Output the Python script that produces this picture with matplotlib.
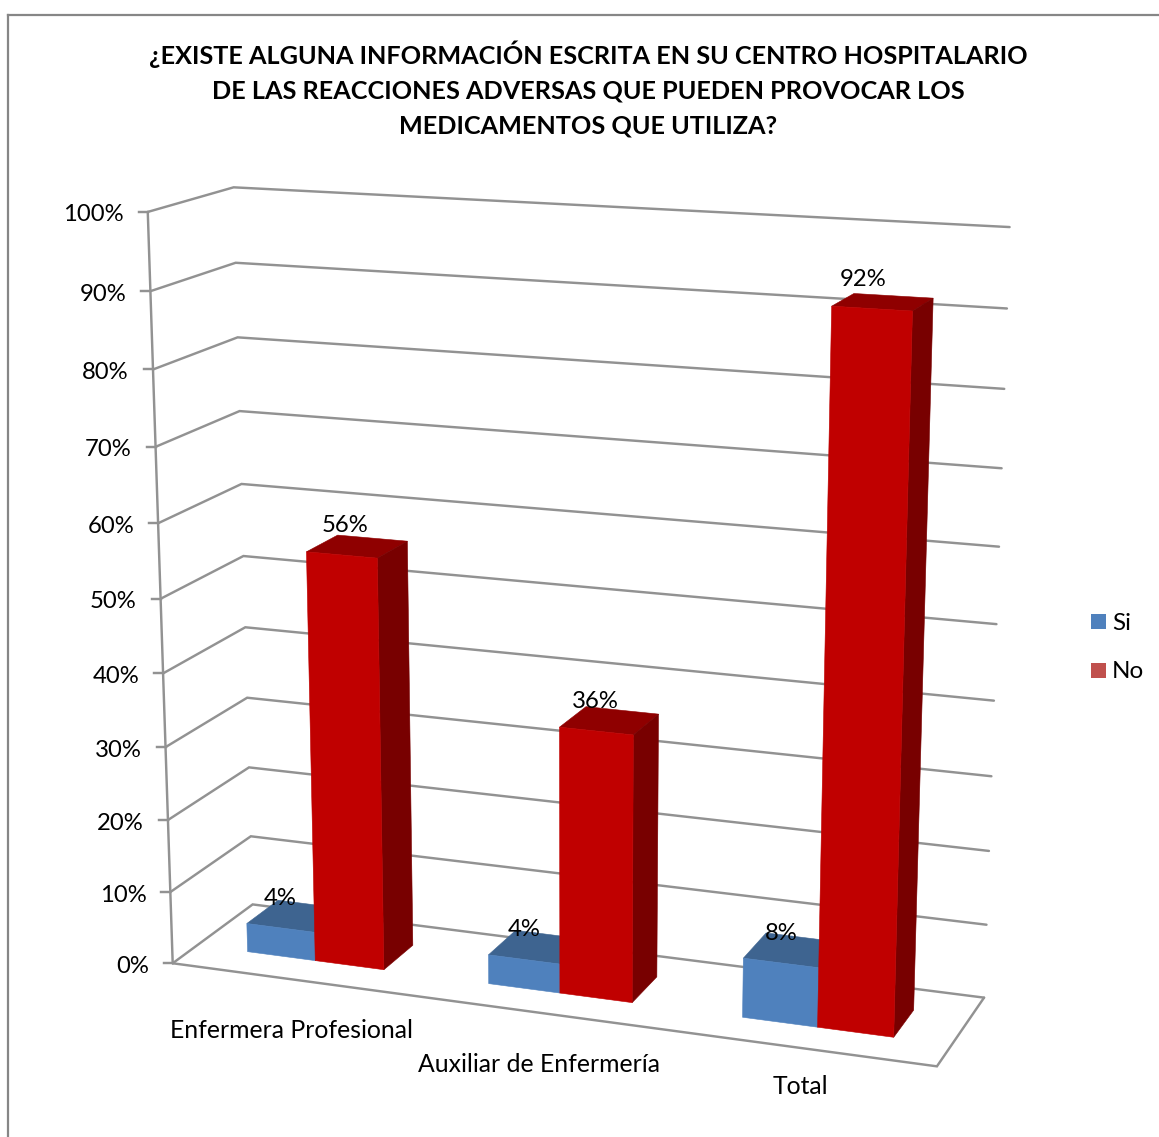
import matplotlib
matplotlib.use("Agg")
import matplotlib.pyplot as plt
import numpy as np

# Data
categories = ["Enfermera Profesional", "Auxiliar de Enfermería", "Total"]
si_values = [4, 4, 8]
no_values = [56, 36, 92]
y_ticks = [0, 10, 20, 30, 40, 50, 60, 70, 80, 90, 100]
series_names = ["Si", "No"]
title = ("¿EXISTE ALGUNA INFORMACIÓN ESCRITA EN SU CENTRO HOSPITALARIO\n"
         "DE LAS REACCIONES ADVERSAS QUE PUEDEN PROVOCAR LOS\n"
         "MEDICAMENTOS QUE UTILIZA?")

plt.rcParams['font.family'] = ['Lato', 'DejaVu Sans']

W, H = 1159, 1137
GRID = "#929292"
GAP_WIDTH = 1.5          # gap between clusters, in bar widths
DEPTH_FRONT = 0.30       # bars sit in this slice of the floor depth
DEPTH_BACK = 0.70

# camera calibration: (x, depth, pct) -> pixel, corners of the 3D box
cal_world = [(0, 0, 0), (0, 0, 30), (0, 0, 60), (0, 0, 100),
             (0, 1, 0), (0, 1, 30), (0, 1, 60), (0, 1, 100),
             (1, 1, 0), (1, 1, 30), (1, 1, 60), (1, 1, 100),
             (1, 0, 0)]
cal_pixel = [(173, 963), (165, 746), (158, 524), (148, 212),
             (253, 905), (247, 698), (241, 484), (234, 187),
             (984, 997), (992, 776), (998, 547), (1010, 227),
             (937, 1067)]


def fit_camera(world, pixel):
    rows = []
    for (x, d, z), (u, v) in zip(world, pixel):
        z = z / 100
        u, v = u / 1000, v / 1000
        rows.append([x, d, z, 1, 0, 0, 0, 0, -u * x, -u * d, -u * z, -u])
        rows.append([0, 0, 0, 0, x, d, z, 1, -v * x, -v * d, -v * z, -v])
    return np.linalg.svd(np.array(rows))[2][-1].reshape(3, 4)


CAM = fit_camera(cal_world, cal_pixel)


def proj(x, d, z):
    p = CAM @ np.array([x, d, z / 100, 1.0])
    return p[0] / p[2] * 1000, p[1] / p[2] * 1000


def line3d(ax, pts, **kw):
    xy = np.array([proj(*p) for p in pts])
    ax.plot(xy[:, 0], xy[:, 1], color=GRID, lw=1.75, solid_capstyle="round",
            solid_joinstyle="miter", **kw)


def bar3d(ax, x0, x1, value, front, top, side):
    d0, d1 = DEPTH_FRONT, DEPTH_BACK
    faces = [
        ([(x0, d0, value), (x1, d0, value), (x1, d1, value), (x0, d1, value)], top),
        ([(x1, d0, 0), (x1, d1, 0), (x1, d1, value), (x1, d0, value)], side),
        ([(x0, d0, 0), (x1, d0, 0), (x1, d0, value), (x0, d0, value)], front),
    ]
    for pts, c in faces:
        xy = np.array([proj(*p) for p in pts])
        ax.fill(xy[:, 0], xy[:, 1], facecolor=c, edgecolor=c, lw=0.4, zorder=3)


fig = plt.figure(figsize=(W / 100, H / 100), dpi=100, facecolor="white")
ax = fig.add_axes([0, 0, 1, 1])
ax.set_xlim(0, W)
ax.set_ylim(H, 0)
ax.axis("off")

# chart frame, only top and left show in the crop
ax.plot([8, W], [15, 15], color="#868686", lw=1.6)
ax.plot([8, 8], [15, H], color="#868686", lw=1.6)

ax.text(588, 89, title, ha="center", va="center", fontsize=18.2,
        fontweight="bold", color="black", linespacing=1.64)

# gridlines, axis and floor
for t in y_ticks:
    line3d(ax, [(0, 0, t), (0, 1, t), (1, 1, t)], zorder=1)
    u, v = proj(0, 0, t)
    ax.plot([u - 9, u], [v, v], color=GRID, lw=1.75, zorder=1)
    ax.text(u - 24, v + 3, f"{t}%", ha="right", va="center", fontsize=17.2, color="black")
line3d(ax, [(0, 0, 0), (0, 0, 100)], zorder=1)
line3d(ax, [(0, 0, 0), (1, 0, 0), (1, 1, 0)], zorder=1)

# bars
n_cat = len(categories)
bar_w = (1 / n_cat) / (2 + GAP_WIDTH)
label_dx = {(0, 0): 0, (0, 1): 3, (1, 0): 0, (1, 1): -1, (2, 0): 0, (2, 1): -9}
for i in range(n_cat):
    mid = (i + 0.5) / n_cat
    bar3d(ax, mid - bar_w, mid, si_values[i], "#4F81BD", "#3E6490", "#3E6490")
    bar3d(ax, mid, mid + bar_w, no_values[i], "#C00000", "#8F0000", "#780000")
    for j, (val, x0) in enumerate([(si_values[i], mid - bar_w), (no_values[i], mid)]):
        u, v = proj(x0 + bar_w / 2, DEPTH_FRONT, val)
        ax.text(u + label_dx[(i, j)], v - 29.5, f"{val}%", ha="center", va="center",
                fontsize=17.2, color="black", zorder=5)

# category labels
label_pos = [(292, 1031), (539, 1064), (800, 1087)]
for name, (u, v) in zip(categories, label_pos):
    ax.text(u, v, name, ha="center", va="center", fontsize=17.8, color="black")

# legend
legend_colors = ["#4F81BD", "#C0504D"]
for name, c, top, off in zip(series_names, legend_colors, [614, 663], [10, 8]):
    ax.add_patch(plt.Rectangle((1091, top), 15, 15, facecolor=c, edgecolor="none"))
    ax.text(1112, top + off, name, ha="left", va="center", fontsize=17.5, color="black")

fig.savefig("out.png", dpi=100)
